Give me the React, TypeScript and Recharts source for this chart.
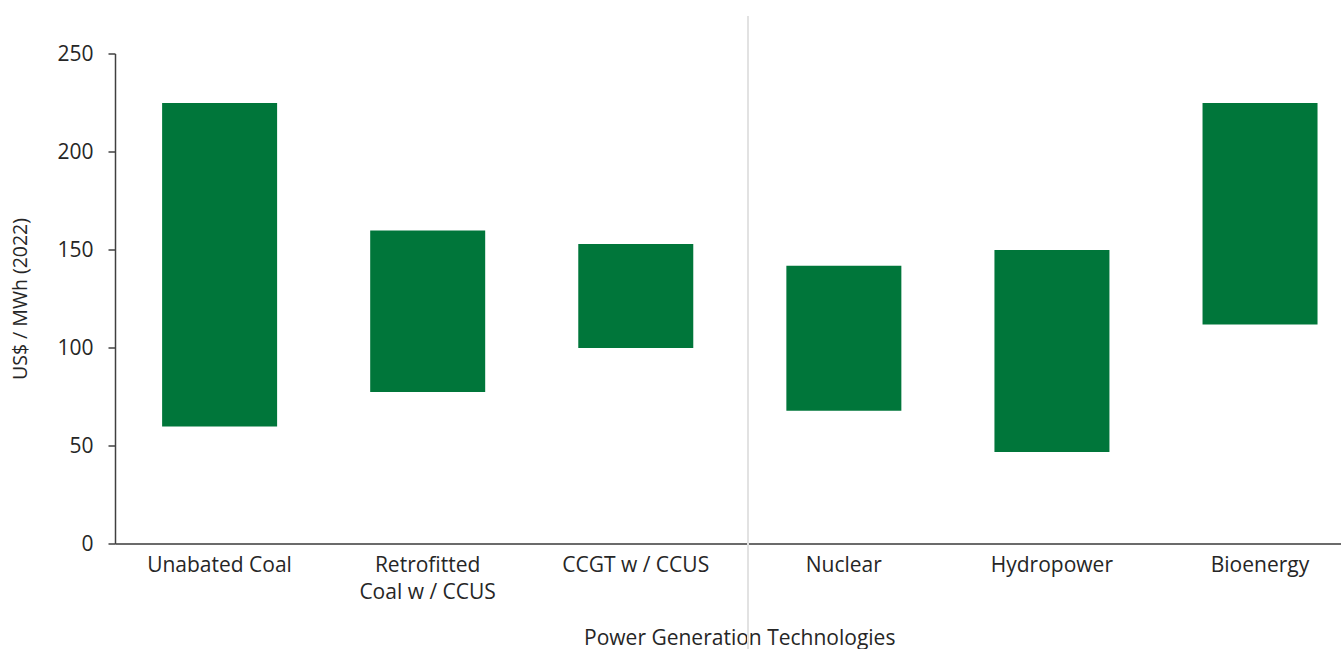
import React from 'react';
import { BarChart, Bar, XAxis, YAxis, Label } from 'recharts';

const technologies = [
  'Unabated Coal',
  'Retrofitted\nCoal w / CCUS',
  'CCGT w / CCUS',
  'Nuclear',
  'Hydropower',
  'Bioenergy',
];
const lowCost = [60, 77.5, 100, 68, 47, 112];
const highCost = [225, 160, 153, 142, 150, 225];
const yTicks = [0, 50, 100, 150, 200, 250];

const data = technologies.map((name, i) => ({
  name,
  range: [lowCost[i], highCost[i]],
}));

const FONT = '"Open Sans", sans-serif';
const TEXT = '#262626';

const CategoryTick = (props: any) => {
  const { x, y, payload } = props;
  const lines = String(payload.value).split('\n');
  return (
    <text x={x} y={y} textAnchor="middle" fill={TEXT} fontFamily={FONT} fontSize={21}>
      {lines.map((line, i) => (
        <tspan key={i} x={x} dy={i === 0 ? '0.71em' : 27}>
          {line}
        </tspan>
      ))}
    </text>
  );
};

const YTitle = (props: any) => {
  const { viewBox } = props;
  const cx = viewBox.x + 19;
  const cy = viewBox.y + viewBox.height / 2;
  return (
    <text
      x={cx}
      y={cy}
      transform={`rotate(-90, ${cx}, ${cy})`}
      textAnchor="middle"
      dominantBaseline="central"
      fill={TEXT}
      fontFamily={FONT}
      fontSize={19.5}
    >
      US$ / MWh (2022)
    </text>
  );
};

export default function App() {
  return (
    <div
      style={{
        position: 'absolute',
        left: 0,
        top: 0,
        width: 1341,
        height: 649,
        overflow: 'hidden',
        background: '#fff',
      }}
    >
      <BarChart
        width={1365}
        height={649}
        data={data}
        margin={{ top: 54, right: 1, bottom: 0, left: 0 }}
        barCategoryGap="22.4%"
      >
        <XAxis
          dataKey="name"
          height={105}
          tickLine={false}
          tickSize={6}
          tickMargin={7}
          interval={0}
          axisLine={{ stroke: '#6b6b6b', strokeWidth: 2 }}
          tick={<CategoryTick />}
        >
          <Label
            value="Power Generation Technologies"
            position="insideBottom"
            offset={4}
            fill={TEXT}
            fontFamily={FONT}
            fontSize={21}
          />
        </XAxis>
        <YAxis
          width={115.5}
          domain={[0, 250]}
          ticks={yTicks}
          tickSize={7}
          tickMargin={15}
          axisLine={{ stroke: '#404040', strokeWidth: 1.5 }}
          tickLine={{ stroke: '#404040', strokeWidth: 1.5 }}
          tick={{ fill: TEXT, fontFamily: FONT, fontSize: 21 }}
        >
          <Label content={<YTitle />} />
        </YAxis>
        <Bar dataKey="range" fill="#00763a" isAnimationActive={false} />
      </BarChart>
      <div
        style={{
          position: 'absolute',
          left: 747,
          top: 16,
          width: 2,
          height: 633,
          background: '#e2e2e2',
        }}
      />
    </div>
  );
}
